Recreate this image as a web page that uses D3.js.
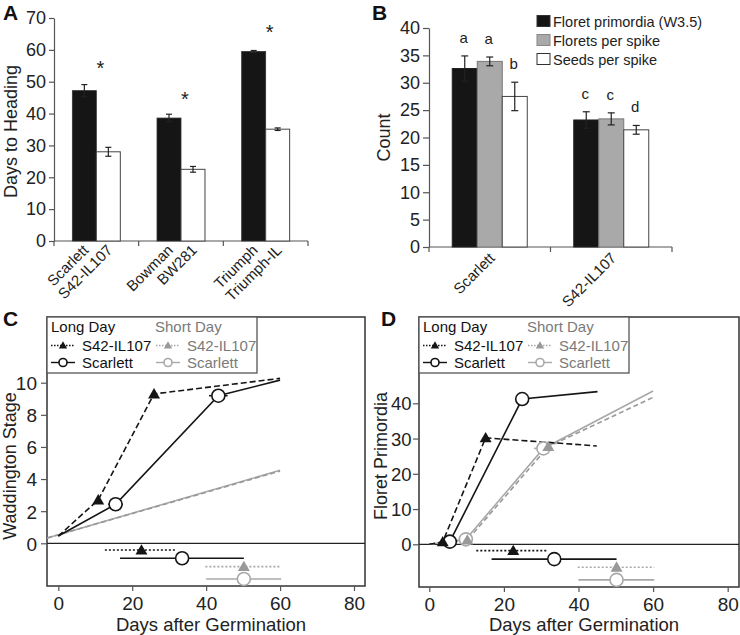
<!DOCTYPE html>
<html><head><meta charset="utf-8">
<script src="https://cdn.jsdelivr.net/npm/d3@7"></script>
<style>body{margin:0;background:#fff} svg{display:block;font-family:"Liberation Sans",Arial,sans-serif}</style>
</head><body><svg id="chart" width="740" height="635"></svg>
<script>
// ---------- DATA ----------
// Panel A
const aGroups = ["Scarlett", "Bowman", "Triumph"];
const aParentLabels = ["Scarlett", "Bowman", "Triumph"];
const aLineLabels = ["S42-IL107", "BW281", "Triumph-IL"];
const aParentVals = [47.2, 38.6, 59.5];
const aParentErr = [1.9, 1.2, 0.3];
const aLineVals = [28.0, 22.5, 35.1];
const aLineErr = [1.4, 0.9, 0.4];
const aStarVals = [54.5, 45.0, 66.0];
const aTicks = [0, 10, 20, 30, 40, 50, 60, 70];

// Panel B
const bGroups = ["Scarlett", "S42-IL107"];
const bSeriesNames = ["Floret primordia (W3.5)", "Florets per spike", "Seeds per spike"];
const bPrimordia = [32.6, 23.2];
const bPrimordiaErr = [2.3, 1.5];
const bFlorets = [33.9, 23.4];
const bFloretsErr = [0.8, 1.1];
const bSeeds = [27.5, 21.4];
const bSeedsErr = [2.6, 0.8];
const bLetters = [["a", "c"], ["a", "c"], ["b", "d"]];
const bTicks = [0, 5, 10, 15, 20, 25, 30, 35, 40];

// Panel C (Waddington stage)
const cLdS42 = [[0, 0.45], [10.8, 2.7], [25.9, 9.3], [60, 10.27]];
const cLdScarlett = [[0, 0.45], [15.5, 2.43], [43.3, 9.19], [60, 10.16]];
const cSdS42 = [[-3, 0.33], [60, 4.5]];
const cSdScarlett = [[-3, 0.33], [60, 4.55]];
const cLdS42Marks = [[10.8, 2.7], [25.9, 9.3]];
const cLdScarlettMarks = [[15.5, 2.43, 2.0], [43.3, 9.19, 2.5]];
const cTicksY = [0, 2, 4, 6, 8, 10];

// Panel D (Floret primordia)
const dLdS42 = [[0, 0], [3.6, 0.7], [15.1, 30.2], [44.9, 27.9]];
const dLdScarlett = [[5.5, 0.75], [24.9, 41.2], [45.1, 43.3]];
const dSdS42 = [[0, 0], [10.2, 1.2], [31.9, 27.7], [60, 41.7]];
const dSdScarlett = [[0, 0], [9.8, 1.4], [30.6, 27.2], [60, 43.5]];
const dLdS42Marks = [[3.6, 0.7], [15.1, 30.2]];
const dLdScarlettMarks = [[5.5, 0.75, 0], [24.9, 41.2, 0]];
const dSdS42Marks = [[10.2, 1.2], [31.9, 27.7]];
const dSdScarlettMarks = [[9.8, 1.4, 1.5], [30.6, 27.2, 2.5]];
const dTicksY = [0, 10, 20, 30, 40];

// Heading dates (mean, low, high) shown below the zero line in C and D
const headMid = [22.5, 33.5, 50.2, 50.2];
const headLo = [12.6, 16.7, 39.8, 40.0];
const headHi = [31.8, 50.2, 60.3, 60.3];
const cHeadY = [-0.42, -0.93, -1.45, -2.22];
const dHeadY = [-1.8, -4.2, -6.5, -10.1];
const xTicks = [0, 20, 40, 60, 80];

// ---------- DRAW ----------
const svg = d3.select("#chart");
const BLACK = "#151515", GRAY = "#a8a8a8", GRAYM = "#999", AXC = "#555";

function panelLabel(t, x, y) {
  svg.append("text").attr("x", x).attr("y", y).attr("font-size", 21)
    .attr("font-weight", "bold").attr("fill", "#111").text(t);
}
function styleAxis(g, fs) {
  g.select(".domain").attr("stroke", AXC).attr("stroke-width", 1.2);
  g.selectAll(".tick line").attr("stroke", AXC).attr("stroke-width", 1.2);
  g.selectAll(".tick text").attr("font-size", fs).attr("fill", "#222")
    .attr("font-family", '"Liberation Sans",Arial,sans-serif');
}
function errBar(g, x, y1, y2, cap, color) {
  g.append("line").attr("x1", x).attr("x2", x).attr("y1", y1).attr("y2", y2).attr("stroke", color).attr("stroke-width", 1.2);
  [y1, y2].forEach(y => g.append("line").attr("x1", x - cap).attr("x2", x + cap).attr("y1", y).attr("y2", y).attr("stroke", color).attr("stroke-width", 1.2));
}

// ===== Panel A =====
(function () {
  const g = svg.append("g");
  const x = d3.scaleBand().domain(aGroups).range([54, 308]);
  const sub = d3.scaleBand().domain(["p", "l"]).range([0, x.bandwidth()]).paddingOuter(0.765);
  const y = d3.scaleLinear().domain([0, 70]).range([241, 18]);
  const ya = g.append("g").attr("transform", "translate(54,0)")
    .call(d3.axisLeft(y).tickValues(aTicks).tickSize(5).tickSizeOuter(0).tickPadding(3));
  styleAxis(ya, 18);
  g.append("line").attr("x1", 54).attr("x2", 308).attr("y1", y(0)).attr("y2", y(0)).attr("stroke", AXC).attr("stroke-width", 1.2);
  aGroups.concat(["_end"]).forEach((d, i) => {
    const xx = i < aGroups.length ? x(d) : x.range()[1];
    g.append("line").attr("x1", xx).attr("x2", xx).attr("y1", y(0)).attr("y2", y(0) + 5).attr("stroke", AXC).attr("stroke-width", 1.2);
  });
  const bw = sub.bandwidth();
  aGroups.forEach((grp, i) => {
    const xp = x(grp) + sub("p"), xl = x(grp) + sub("l");
    g.append("rect").attr("x", xp).attr("y", y(aParentVals[i])).attr("width", bw).attr("height", y(0) - y(aParentVals[i]))
      .attr("fill", BLACK).attr("stroke", "#333").attr("stroke-width", 0.8);
    g.append("rect").attr("x", xl).attr("y", y(aLineVals[i])).attr("width", bw).attr("height", y(0) - y(aLineVals[i]))
      .attr("fill", "#fff").attr("stroke", "#444").attr("stroke-width", 1);
    errBar(g, xp + bw / 2, y(aParentVals[i] + aParentErr[i]), y(aParentVals[i] - aParentErr[i]), 3, "#222");
    errBar(g, xl + bw / 2, y(aLineVals[i] + aLineErr[i]), y(aLineVals[i] - aLineErr[i]), 3, "#222");
    g.append("text").attr("x", xl + 4).attr("y", y(aStarVals[i]) + 8).attr("text-anchor", "middle")
      .attr("font-size", 20).attr("fill", "#222").text("*");
    [[aParentLabels[i], xp], [aLineLabels[i], xl]].forEach(([t, xx]) => {
      g.append("text").attr("transform", `translate(${xx + bw / 2 + 5},${y(0) + 10}) rotate(-45)`)
        .attr("text-anchor", "end").attr("font-size", 15).attr("fill", "#222").text(t);
    });
  });
  g.append("text").attr("transform", `translate(17,${(y(0) + y(70)) / 2 + 2}) rotate(-90)`)
    .attr("text-anchor", "middle").attr("font-size", 18).attr("fill", "#222").text("Days to Heading");
  panelLabel("A", 3, 20);
})();

// ===== Panel B =====
(function () {
  const g = svg.append("g");
  const x = d3.scaleBand().domain(bGroups).range([429, 672]);
  const sub = d3.scaleBand().domain([0, 1, 2]).range([0, x.bandwidth()]).paddingOuter(0.93);
  const y = d3.scaleLinear().domain([0, 40]).range([247, 28]);
  const ya = g.append("g").attr("transform", "translate(429,0)")
    .call(d3.axisLeft(y).tickValues(bTicks).tickSize(6).tickSizeOuter(0).tickPadding(3));
  styleAxis(ya, 18);
  g.append("line").attr("x1", 429).attr("x2", 672).attr("y1", y(0)).attr("y2", y(0)).attr("stroke", AXC).attr("stroke-width", 1.2);
  [x("Scarlett"), x("S42-IL107"), x.range()[1]].forEach(xx =>
    g.append("line").attr("x1", xx).attr("x2", xx).attr("y1", y(0)).attr("y2", y(0) + 5).attr("stroke", AXC).attr("stroke-width", 1.2));
  const vals = [bPrimordia, bFlorets, bSeeds];
  const errs = [bPrimordiaErr, bFloretsErr, bSeedsErr];
  const fills = [BLACK, "#a9a9a9", "#fff"];
  const strokes = ["#222", "#777", "#444"];
  const bw = sub.bandwidth();
  bGroups.forEach((grp, gi) => {
    vals.forEach((v, si) => {
      const xx = x(grp) + sub(si);
      g.append("rect").attr("x", xx).attr("y", y(v[gi])).attr("width", bw).attr("height", y(0) - y(v[gi]))
        .attr("fill", fills[si]).attr("stroke", strokes[si]).attr("stroke-width", 1);
      const top = y(v[gi] + errs[si][gi]);
      errBar(g, xx + bw / 2, top, y(v[gi] - errs[si][gi]), 3.5, "#222");
      g.append("text").attr("x", xx + bw / 2 - 1).attr("y", top - 13).attr("text-anchor", "middle")
        .attr("font-size", 15).attr("fill", "#222").text(bLetters[si][gi]);
    });
    g.append("text").attr("transform", `translate(${x(grp) + x.bandwidth() / 2 + 6},${y(0) + 12}) rotate(-45)`)
      .attr("text-anchor", "end").attr("font-size", 15).attr("fill", "#222").text(grp);
  });
  bSeriesNames.forEach((n, i) => {
    const cy = 21 + i * 19;
    g.append("rect").attr("x", 537).attr("y", cy - 5.5).attr("width", 13).attr("height", 11)
      .attr("fill", fills[i]).attr("stroke", strokes[i] === "#777" ? "#888" : "#333").attr("stroke-width", 1);
    g.append("text").attr("x", 553).attr("y", cy + 5.5).attr("font-size", 14.5).attr("fill", "#222").text(n);
  });
  g.append("text").attr("transform", `translate(390,${(y(0) + y(40)) / 2}) rotate(-90)`)
    .attr("text-anchor", "middle").attr("font-size", 18).attr("fill", "#222").text("Count");
  panelLabel("B", 372, 20);
})();

// ===== Panels C & D =====
function linePanel(cfg) {
  const g = svg.append("g");
  const x = d3.scaleLinear().domain([0, 80]).range(cfg.xr);
  const y = d3.scaleLinear().domain(cfg.yd).range(cfg.yr);
  const [fx0, fx1, fy0, fy1] = cfg.frame;
  g.append("rect").attr("x", fx0).attr("y", fy0).attr("width", fx1 - fx0).attr("height", fy1 - fy0)
    .attr("fill", "none").attr("stroke", "#333").attr("stroke-width", 1.5);
  const xa = g.append("g").attr("transform", `translate(0,${fy1})`)
    .call(d3.axisBottom(x).tickValues(xTicks).tickSize(5).tickSizeOuter(0).tickPadding(6));
  xa.select(".domain").remove();
  styleAxis(xa, 19);
  const ya = g.append("g").attr("transform", `translate(${fx0},0)`)
    .call(d3.axisLeft(y).tickValues(cfg.yTicks).tickSize(6).tickSizeOuter(0).tickPadding(cfg.yPad));
  ya.select(".domain").remove();
  styleAxis(ya, cfg.yFs);
  ya.selectAll(".tick text").attr("dy", "0.36em");
  g.append("line").attr("x1", fx0).attr("x2", fx1).attr("y1", y(0)).attr("y2", y(0)).attr("stroke", "#222").attr("stroke-width", 1.3);
  const line = d3.line().x(d => x(d[0])).y(d => y(d[1]));
  const addLine = (data, color, dash) => g.append("path").attr("d", line(data)).attr("fill", "none")
    .attr("stroke", color).attr("stroke-width", 1.6).attr("stroke-dasharray", dash || null);
  const addTri = (px, py, color, s) => g.append("path").attr("d", d3.symbol().type(d3.symbolTriangle).size(s || 62)())
    .attr("transform", `translate(${px},${py + 1})`).attr("fill", color);
  const addCirc = (px, py, color, r) => g.append("circle").attr("cx", px).attr("cy", py).attr("r", r || 6.5)
    .attr("fill", "#fff").attr("stroke", color).attr("stroke-width", 1.6);
  cfg.series.forEach(s => addLine(s.data, s.color, s.dash));
  cfg.series.forEach(s => {
    (s.marks || []).forEach(m => {
      if (s.sym === "tri") addTri(x(m[0]), y(m[1]), s.color);
      else {
        if (m[2]) g.append("line").attr("x1", x(m[0] - m[2])).attr("x2", x(m[0] + m[2])).attr("y1", y(m[1])).attr("y2", y(m[1]))
          .attr("stroke", s.color).attr("stroke-width", 1.6);
        addCirc(x(m[0]), y(m[1]), s.color);
      }
    });
  });
  const rowStyle = [
    { c: BLACK, dash: "2,2", sym: "tri" },
    { c: BLACK, dash: null, sym: "circ" },
    { c: GRAY, dash: "2,2", sym: "tri" },
    { c: GRAY, dash: null, sym: "circ" }];
  headMid.forEach((m, i) => {
    const yy = y(cfg.headY[i]);
    g.append("line").attr("x1", x(headLo[i])).attr("x2", x(headHi[i])).attr("y1", yy).attr("y2", yy)
      .attr("stroke", rowStyle[i].c).attr("stroke-width", 1.6).attr("stroke-dasharray", rowStyle[i].dash);
    if (rowStyle[i].sym === "tri") addTri(x(m), yy, i === 2 ? GRAYM : BLACK);
    else addCirc(x(m), yy, rowStyle[i].c);
  });
  // legend
  const lx = fx0, ly = fy0;
  g.append("rect").attr("x", lx).attr("y", ly).attr("width", 210).attr("height", 56)
    .attr("fill", "#fff").attr("stroke", "#555").attr("stroke-width", 1.3);
  const cols = [{ x: lx + 4, c: "#111", tc: "#111", title: "Long Day", tri: BLACK }, { x: lx + 109, c: GRAY, tc: "#7a7a7a", title: "Short Day", tri: GRAYM }];
  cols.forEach((col, ci) => {
    g.append("text").attr("x", col.x + (ci ? -1 : 0)).attr("y", ly + 15).attr("font-size", 15).attr("fill", col.tc).text(col.title);
    const r1 = ly + 28.5, r2 = ly + 45.5;
    g.append("line").attr("x1", col.x).attr("x2", col.x + 24).attr("y1", r1).attr("y2", r1)
      .attr("stroke", col.c).attr("stroke-width", 1.3).attr("stroke-dasharray", "1.5,1.5");
    addTri(col.x + 12, r1 - 0.5, col.tri, 30);
    g.append("text").attr("x", col.x + 31).attr("y", r1 + 5).attr("font-size", 15).attr("fill", col.tc).text("S42-IL107");
    g.append("line").attr("x1", col.x).attr("x2", col.x + 24).attr("y1", r2).attr("y2", r2)
      .attr("stroke", col.c).attr("stroke-width", 1.4);
    addCirc(col.x + 12, r2, col.c, 4);
    g.append("text").attr("x", col.x + 31).attr("y", r2 + 5).attr("font-size", 15).attr("fill", col.tc).text("Scarlett");
  });
  g.append("text").attr("x", (fx0 + fx1) / 2 + 5).attr("y", 631).attr("text-anchor", "middle")
    .attr("font-size", 18.5).attr("fill", "#222").text("Days after Germination");
  g.append("text").attr("transform", `translate(${cfg.yTitleX},${cfg.yTitleY}) rotate(-90)`)
    .attr("text-anchor", "middle").attr("font-size", 18).attr("fill", "#222").text(cfg.yTitle);
  panelLabel(cfg.label, cfg.labelX, 326);
}

linePanel({
  label: "C", labelX: 3, xr: [58.3, 354], yd: [0, 10], yr: [543.3, 382.7], frame: [47, 365, 317, 586],
  yTicks: cTicksY, yPad: 4, yFs: 19, headY: cHeadY, yTitle: "Waddington Stage", yTitleX: 16, yTitleY: 466,
  series: [
    { data: cSdScarlett, color: GRAY, dash: null },
    { data: cSdS42, color: GRAYM, dash: "5,3" },
    { data: cLdScarlett, color: BLACK, dash: null, marks: cLdScarlettMarks, sym: "circ" },
    { data: cLdS42, color: BLACK, dash: "6,3", marks: cLdS42Marks, sym: "tri" }]
});
linePanel({
  label: "D", labelX: 381, xr: [429.3, 727.7], yd: [0, 40], yr: [544.3, 403.3], frame: [419, 739, 317, 587],
  yTicks: dTicksY, yPad: 1.5, yFs: 18.5, headY: dHeadY, yTitle: "Floret Primordia", yTitleX: 387, yTitleY: 456,
  series: [
    { data: dSdScarlett, color: GRAY, dash: null, marks: dSdScarlettMarks, sym: "circ" },
    { data: dSdS42, color: GRAYM, dash: "5,3", marks: dSdS42Marks, sym: "tri" },
    { data: dLdScarlett, color: BLACK, dash: null, marks: dLdScarlettMarks, sym: "circ" },
    { data: dLdS42, color: BLACK, dash: "6,3", marks: dLdS42Marks, sym: "tri" }]
});
</script></body></html>
